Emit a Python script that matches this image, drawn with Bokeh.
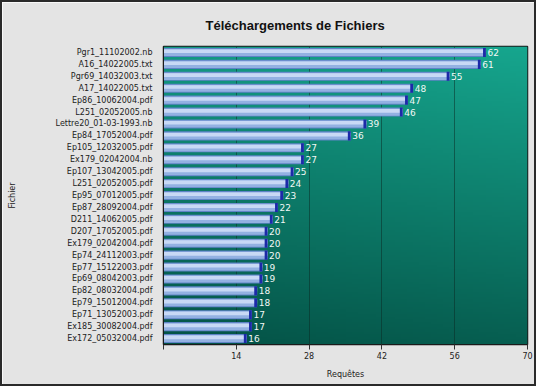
import numpy as np
from bokeh.plotting import figure
from bokeh.models import ColumnDataSource, FixedTicker
from bokeh.core.properties import value
from bokeh.transform import dodge
from bokeh.embed import file_html
from bokeh.resources import INLINE

files = ["Pgr1_11102002.nb", "A16_14022005.txt", "Pgr69_14032003.txt", "A17_14022005.txt",
         "Ep86_10062004.pdf", "L251_02052005.nb", "Lettre20_01-03-1993.nb", "Ep84_17052004.pdf",
         "Ep105_12032005.pdf", "Ex179_02042004.nb", "Ep107_13042005.pdf", "L251_02052005.pdf",
         "Ep95_07012005.pdf", "Ep87_28092004.pdf", "D211_14062005.pdf", "D207_17052005.pdf",
         "Ex179_02042004.pdf", "Ep74_24112003.pdf", "Ep77_15122003.pdf", "Ep69_08042003.pdf",
         "Ep82_08032004.pdf", "Ep79_15012004.pdf", "Ep71_13052003.pdf", "Ex185_30082004.pdf",
         "Ex172_05032004.pdf"]
requetes = [62, 61, 55, 48, 47, 46, 39, 36, 27, 27, 25, 24, 23, 22, 21, 20, 20, 20, 19, 19,
            18, 18, 17, 17, 16]
x_ticks = [0, 14, 28, 42, 56, 70]
x_max = 70

src = ColumnDataSource(dict(f=files, v=requetes,
                            cap=[r - 0.55 for r in requetes],
                            lab=[str(r) for r in requetes],
                            tx=[r + 0.3 for r in requetes]))

p = figure(width=536, height=386, y_range=list(reversed(files)), x_range=(0, x_max),
           output_backend="svg", toolbar_location=None,
           min_border_left=161, min_border_right=11, min_border_top=44, min_border_bottom=44)

p.border_fill_color = "#e4e4e4"
p.outline_line_color = "#1a1a1a"
p.outline_line_width = 1.5
p.styles = {"border": "2px solid #2a2a2a"}

# background gradient
ny, nx = 120, 60
img = np.zeros((ny, nx), dtype=np.uint32)
view = img.view(dtype=np.uint8).reshape((ny, nx, 4))
top = np.array([0x16, 0xa6, 0x8e])
bot = np.array([0x04, 0x52, 0x46])
for i in range(ny):
    for j in range(nx):
        t = 0.85 * (1 - i / (ny - 1)) + 0.15 * (1 - j / (nx - 1))
        c = top + (bot - top) * t
        view[i, j, 0:3] = c.astype(np.uint8)
        view[i, j, 3] = 255
p.image_rgba(image=[img], x=0, y=0, dw=x_max, dh=len(files), level="image")

# bars
p.hbar(y="f", right="v", left=0, height=0.76, source=src, fill_color="#5f83c6", line_color=None)
p.hbar(y="f", right="v", left=0, height=0.6, source=src, fill_color="#93b1e2", line_color=None)
p.hbar(y=dodge("f", 0.1, range=p.y_range), right="v", left=0, height=0.3, source=src,
       fill_color="#c8d9f5", line_color=None)
p.hbar(y="f", right="v", left="cap", height=0.76, source=src, fill_color="#1c2aa8", line_color=None)

p.text(x="tx", y="f", text="lab", source=src, text_color="#f2f8f6", text_font=value("DejaVu Sans"),
       text_font_size="9px", text_baseline="middle", text_align="left")

p.title.text = "Téléchargements de Fichiers"
p.title.text_font = "Liberation Sans"
p.title.text_font_size = "13px"
p.title.text_font_style = "bold"
p.title.text_color = "#111111"
p.title.align = "left"
p.title.offset = 42
p.title.standoff = 27

p.xaxis.ticker = FixedTicker(ticks=x_ticks)
p.xaxis.major_label_overrides = {0: ""}
p.xaxis.axis_label = "Requêtes"
p.yaxis.axis_label = "Fichier"
for ax in (p.xaxis, p.yaxis):
    ax.axis_label_text_font = "DejaVu Sans"
    ax.axis_label_text_font_size = "8px"
    ax.axis_label_text_font_style = "normal"
    ax.axis_label_text_color = "#222222"
    ax.major_label_text_font = "DejaVu Sans"
    ax.major_label_text_font_size = "8px"
    ax.major_label_text_color = "#222222"
    ax.axis_line_color = "#1a1a1a"
    ax.minor_tick_line_color = None
p.xaxis.major_tick_out = 5
p.xaxis.major_tick_in = 0
p.xaxis.major_tick_line_color = "#333333"
p.xaxis.major_label_standoff = 2
p.xaxis.axis_label_standoff = 8
p.yaxis.major_tick_line_color = None
p.yaxis.major_label_standoff = 5
p.yaxis.axis_label_standoff = 36

p.ygrid.grid_line_color = None
p.xgrid.ticker = FixedTicker(ticks=x_ticks[1:-1])
p.xgrid.grid_line_color = "#0a2a24"
p.xgrid.grid_line_dash = "1 1"
p.xgrid.grid_line_width = 1

open("out.html", "w").write(file_html(p, INLINE))
